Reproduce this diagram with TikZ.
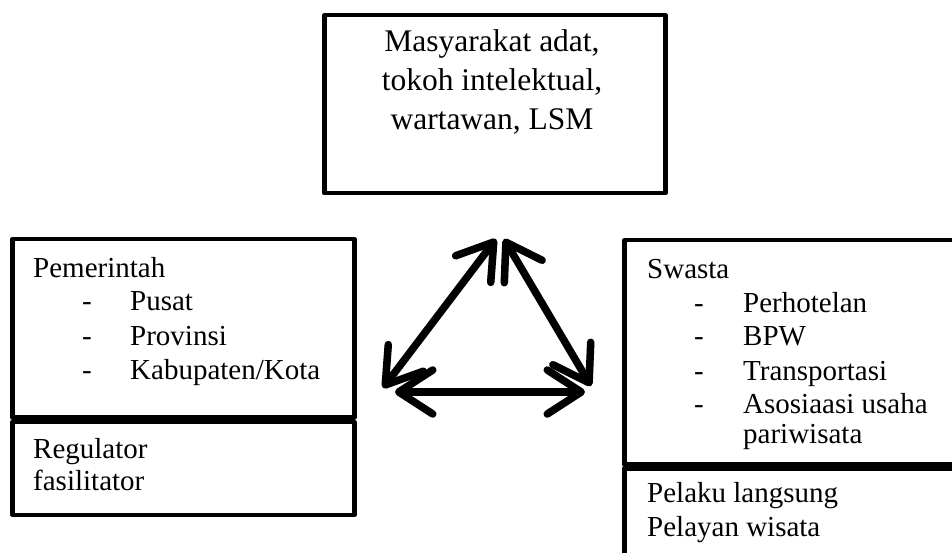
\documentclass[tikz,border=0pt]{standalone}
\usepackage{fontspec}
\setmainfont{Liberation Serif}
\usetikzlibrary{arrows.meta}
\begin{document}
\begin{tikzpicture}[x=1pt,y=-1pt,
  box/.style={draw=black, line width=4.5pt, line join=round, rectangle, inner sep=0pt, anchor=north west},
  txt/.style={anchor=base west, inner sep=0pt, font=\fontsize{29}{34}\selectfont},
  toptxt/.style={anchor=base, inner sep=0pt, font=\fontsize{31.5}{39}\selectfont},
  barb/.tip={Straight Barb[length=34pt,width=44pt,line cap=round,line join=round]},
  rel/.style={line width=7.5pt, line cap=round, line join=round, barb-barb},
  relshadow/.style={rel, draw=black!40, opacity=0.35}
]
\useasboundingbox (0,0) rectangle (952,553);
\begin{scope}
\clip (0,0) rectangle (952,553);
% boxes
\node[box, minimum width=341pt, minimum height=178pt] (masy) at (322,13) {};
\node[box, minimum width=342pt, minimum height=178pt] (pem) at (10,237) {};
\node[box, minimum width=342pt, minimum height=93pt] (pemrole) at (10,419.5) {};
\node[box, minimum width=340pt, minimum height=224pt] (swasta) at (622,238) {};
\node[box, minimum width=340pt, minimum height=110pt] (swastarole) at (622,466) {};
\end{scope}
% top text
\node[toptxt] (m1) at (492,52) {Masyarakat adat,};
\node[toptxt] (m2) at (492,91) {tokoh intelektual,};
\node[toptxt] (m3) at (492,130) {wartawan, LSM};
% left text
\node[txt] (pt) at (33,277) {Pemerintah};
\node[txt] (p1) at (82,310) {\makebox[48pt][l]{-}Pusat};
\node[txt] (p2) at (82,345) {\makebox[48pt][l]{-}Provinsi};
\node[txt] (p3) at (82,379) {\makebox[48pt][l]{-}Kabupaten/Kota};
\node[txt] (r1) at (33,458) {Regulator};
\node[txt] (r2) at (33,490) {fasilitator};
% right text
\node[txt] (st) at (647,278) {Swasta};
\node[txt] (s1) at (694,312) {\makebox[49pt][l]{-}Perhotelan};
\node[txt] (s2) at (694,345) {\makebox[49pt][l]{-}BPW};
\node[txt] (s3) at (694,380) {\makebox[49pt][l]{-}Transportasi};
\node[txt] (s4) at (694,413) {\makebox[49pt][l]{-}Asosiaasi usaha};
\node[txt] (s5) at (743,443) {pariwisata};
\node[txt] (w1) at (647,502) {Pelaku langsung};
\node[txt] (w2) at (647,536) {Pelayan wisata};
% arrows
\coordinate (aL) at (383,388);
\coordinate (aT1) at (496,239);
\coordinate (aT2) at (504,239);
\coordinate (aR) at (591,386);
\coordinate (hL) at (395,392);
\coordinate (hR) at (585,392);
\begin{scope}[shift={(2,3)}]
\draw[relshadow] (aL) -- (aT1);
\draw[relshadow] (aT2) -- (aR);
\draw[relshadow] (hL) -- (hR);
\end{scope}
\draw[rel] (aL) -- (aT1);
\draw[rel] (aT2) -- (aR);
\draw[rel] (hL) -- (hR);
\end{tikzpicture}
\end{document}
